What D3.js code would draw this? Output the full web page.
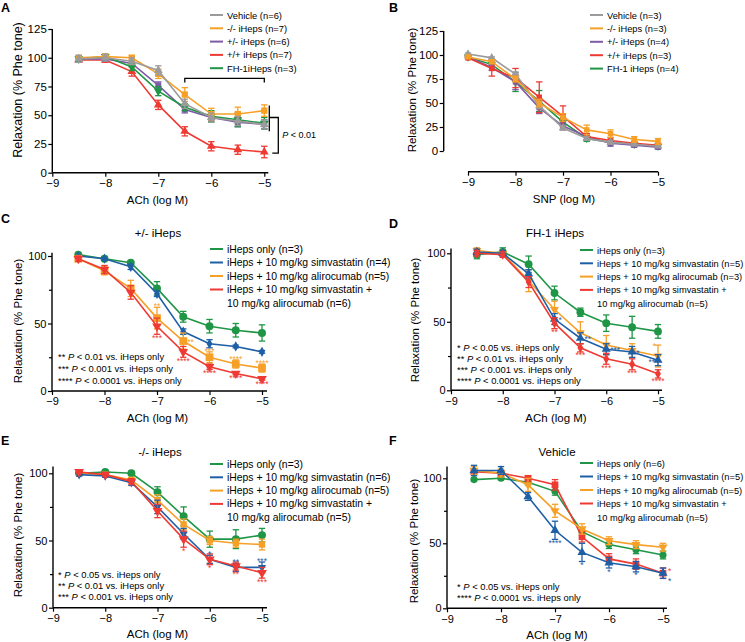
<!DOCTYPE html>
<html>
<head>
<meta charset="utf-8">
<script src="https://cdn.jsdelivr.net/npm/d3@7"></script>
<style>
  body { margin: 0; background: #fff; }
  text { font-family: "Liberation Sans", Arial, sans-serif; }
</style>
</head>
<body>
<script>
// doses (log M)
var doses8 = [-8.5, -8, -7.5, -7, -6.5, -6, -5.5, -5];
var doses9 = [-9, -8.5, -8, -7.5, -7, -6.5, -6, -5.5, -5];

// panel A - ACh, genotypes
var aNames = ["Vehicle (n=6)", "-/- iHeps (n=7)", "+/- iHeps (n=6)", "+/+ iHeps (n=7)", "FH-1iHeps (n=3)"];
var aVehicle = [99, 100, 97, 89, 60, 48, 45, 42], aVehicleErr = [3, 3, 3, 4, 4, 4, 4, 4];
var aKO = [100, 101, 100, 86, 68, 51, 51, 54], aKOErr = [2, 2, 2, 4, 6, 5, 6, 5];
var aHet = [99, 99, 95, 76, 55, 48, 44, 42], aHetErr = [2, 2, 2, 3, 3, 3, 4, 4];
var aHom = [98, 98, 88, 59, 36, 23, 20, 18], aHomErr = [2, 2, 4, 4, 4, 4, 4, 5];
var aFH = [99, 101, 92, 71, 57, 49, 46, 43], aFHErr = [2, 2, 3, 4, 3, 5, 6, 5];

// panel B - SNP, genotypes
var bNames = ["Vehicle (n=3)", "-/- iHeps (n=3)", "+/- iHeps (n=4)", "+/+ iHeps (n=3)", "FH-1 iHeps (n=4)"];
var bVehicle = [101, 97, 80, 47, 24, 13, 9, 7, 5], bVehicleErr = [1, 1, 2, 3, 2, 2, 2, 1, 1];
var bKO = [98, 93, 75, 50, 35, 22, 18, 12, 10], bKOErr = [1, 2, 3, 4, 4, 5, 4, 3, 3];
var bHet = [98, 87, 72, 45, 26, 15, 8, 6, 4], bHetErr = [1, 3, 8, 6, 4, 3, 3, 2, 2];
var bHom = [97, 86, 76, 56, 36, 15, 11, 8, 6], bHomErr = [1, 8, 10, 16, 11, 3, 3, 2, 2];
var bFH = [98, 90, 72, 52, 30, 13, 9, 7, 5], bFHErr = [1, 2, 10, 11, 4, 3, 2, 2, 2];

// panels C-F - treatments
var treatLabels = ["iHeps only", "iHeps + 10 mg/kg simvastatin", "iHeps + 10 mg/kg alirocumab", "iHeps + 10 mg/kg simvastatin +"];
var comboSecondLine = "10 mg/kg alirocumab";

var cN = [3, 4, 5, 6];
var cOnly = [101, 98, 95, 76, 55, 48, 45, 43], cOnlyErr = [1, 1, 1, 5, 4, 5, 5, 6];
var cSimva = [100, 98, 92, 72, 44, 35, 33, 29], cSimvaErr = [1, 1, 2, 2, 2, 3, 1, 1];
var cAliro = [98, 89, 76, 54, 37, 25, 20, 17], cAliroErr = [2, 3, 6, 8, 6, 4, 3, 3];
var cCombo = [98, 90, 73, 48, 29, 18, 13, 9], cComboErr = [2, 3, 5, 6, 4, 2, 1, 1];

var dN = [3, 5, 3, 5];
var dOnly = [99, 101, 92, 71, 57, 49, 46, 43], dOnlyErr = [3, 3, 6, 5, 3, 6, 8, 5];
var dSimva = [101, 100, 85, 52, 38, 30, 28, 22], dSimvaErr = [2, 2, 3, 4, 4, 4, 4, 4];
var dAliro = [102, 100, 80, 59, 42, 33, 29, 25], dAliroErr = [2, 2, 8, 6, 8, 7, 5, 8];
var dCombo = [100, 99, 79, 49, 31, 23, 19, 12], dComboErr = [2, 2, 4, 4, 3, 4, 4, 3];

var eN = [3, 6, 5, 5];
var eOnly = [100, 101, 100, 86, 68, 51, 51, 54], eOnlyErr = [1, 1, 1, 4, 7, 6, 7, 5];
var eSimva = [99, 98, 93, 75, 55, 36, 30, 30], eSimvaErr = [1, 1, 2, 5, 4, 3, 3, 4];
var eAliro = [100, 99, 95, 80, 62, 50, 48, 47], eAliroErr = [1, 1, 2, 4, 4, 3, 3, 4];
var eCombo = [101, 99, 94, 72, 51, 36, 31, 26], eComboErr = [1, 1, 2, 5, 6, 4, 3, 4];

var fN = [6, 5, 5, 5];
var fOnly = [99, 100, 97, 90, 59, 49, 45, 41], fOnlyErr = [1, 1, 2, 3, 3, 3, 3, 3];
var fSimva = [106, 106, 86, 60, 43, 35, 32, 27], fSimvaErr = [4, 3, 3, 7, 7, 4, 4, 4];
var fAliro = [106, 104, 95, 75, 61, 52, 49, 47], fAliroErr = [3, 3, 5, 5, 4, 3, 3, 3];
var fCombo = [105, 104, 100, 95, 55, 38, 34, 27], fComboErr = [2, 2, 2, 4, 4, 4, 4, 4];

// significance marks: series index, dose, stars, where (a above, b below, r right, l left)
var cStars = [[2, -7, "**", "a"], [3, -7, "***", "b"], [2, -6.5, "**", "r"], [3, -6.5, "****", "b"],
  [2, -6, "***", "a"], [3, -6, "****", "b"], [2, -5.5, "****", "a"], [3, -5.5, "****", "b"],
  [2, -5, "****", "a"], [3, -5, "****", "b"]];
var dStars = [[3, -7, "**", "b"], [1, -7, "*", "r"], [1, -6.5, "**", "r"], [3, -6.5, "***", "b"],
  [1, -6, "***", "r"], [3, -6, "***", "b"], [1, -5.5, "*", "r"], [3, -5.5, "***", "b"],
  [2, -5, "*", "la"], [1, -5, "**", "l"], [3, -5, "****", "b"]];
var eStars = [[3, -6.5, "*", "b"], [1, -6, "*", "a"], [3, -6, "*", "b"], [1, -5.5, "**", "a"],
  [3, -5.5, "**", "b"], [1, -5, "***", "a"], [3, -5, "***", "b"]];
var fStars = [[1, -7, "****", "b"], [1, -6.5, "*", "b"], [1, -6, "*", "b"], [1, -5.5, "*", "b"],
  [3, -5, "*", "ra"], [1, -5, "*", "rb"]];

var cNotes = [["**", "< 0.01 vs. iHeps only"], ["***", "< 0.001 vs. iHeps only"], ["****", "< 0.0001 vs. iHeps only"]];
var dNotes = [["*", "< 0.05 vs. iHeps only"], ["**", "< 0.01 vs. iHeps only"], ["***", "< 0.001 vs. iHeps only"], ["****", "< 0.0001 vs. iHeps only"]];
var eNotes = [["*", "< 0.05 vs. iHeps only"], ["**", "< 0.01 vs. iHeps only"], ["***", "< 0.001 vs. iHeps only"]];
var fNotes = [["*", "< 0.05 vs. iHeps only"], ["****", "< 0.0001 vs. iHeps only"]];

var xTicks = [-9, -8, -7, -6, -5];

var GREY = "#9b9b9b", ORANGE = "#f7a028", PURPLE = "#7d5ba6", RED = "#ee3a33", GREEN = "#1e9646", BLUE = "#1f5fa6";

var svg = d3.select("body").append("svg").attr("width", 745).attr("height", 642);

function sym(type, size) {
  return d3.symbol().type(type).size(size)();
}

function drawPanel(p) {
  var g = svg.append("g");
  var x = d3.scaleLinear().domain([-9, -5]).range(p.xr);
  var y = d3.scaleLinear().domain([0, p.yref]).range(p.yr);
  var yAxX = p.yAxX !== undefined ? p.yAxX : p.xr[0];
  var xAxY = p.xAxY !== undefined ? p.xAxY : y(0);

  // y axis
  var ya = g.append("g").attr("transform", "translate(" + yAxX + ",0)")
    .call(d3.axisLeft(y).tickValues(p.yTicks).tickSize(4).tickPadding(1.5));
  ya.select(".domain").remove();
  if (p.yMinor) {
    var ym = g.append("g").attr("transform", "translate(" + yAxX + ",0)")
      .call(d3.axisLeft(y).tickValues(p.yMinor).tickSize(3).tickFormat(""));
    ym.select(".domain").remove();
  }
  g.append("line").attr("x1", yAxX).attr("x2", yAxX).attr("y1", y(0)).attr("y2", y(p.yTop))
    .attr("stroke", "#000").attr("stroke-width", 1.4);

  // x axis
  var xa = g.append("g").attr("transform", "translate(0," + xAxY + ")")
    .call(d3.axisBottom(x).tickValues(xTicks).tickSize(4).tickPadding(2.5).tickFormat(d3.format("d")));
  xa.select(".domain").remove();
  g.append("line").attr("x1", p.yAxX !== undefined ? x(-9) : yAxX).attr("x2", x(-5) + (p.xExt || 0))
    .attr("y1", xAxY).attr("y2", xAxY).attr("stroke", "#000").attr("stroke-width", 1.4);

  g.selectAll(".tick line").attr("stroke", "#000").attr("stroke-width", 1.2);
  g.selectAll(".tick text").attr("fill", "#000").style("font-size", p.tickFont + "px")
    .style("font-family", "Liberation Sans, Arial, sans-serif");

  // axis titles
  g.append("text").attr("x", p.xLab[0]).attr("y", p.xLab[1]).attr("text-anchor", "middle")
    .style("font-size", p.labFont + "px").text(p.xTitle);
  g.append("text").attr("transform", "translate(" + p.yLab[0] + "," + p.yLab[1] + ") rotate(-90)")
    .attr("text-anchor", "middle").attr("dy", "0.35em").style("font-size", p.yLabFont + "px")
    .text("Relaxation (% Phe tone)");

  if (p.title) {
    g.append("text").attr("x", p.title[0]).attr("y", p.title[1]).attr("text-anchor", "middle")
      .style("font-size", "11.5px").text(p.title[2]);
  }
  g.append("text").attr("x", p.letter[0]).attr("y", p.letter[1]).style("font-size", "12.5px")
    .style("font-weight", "bold").text(p.letter[2]);

  // series
  var line = d3.line().x(function(d) { return x(d[0]); }).y(function(d) { return y(d[1]); });
  p.order.forEach(function(i) {
    var s = p.series[i];
    var pts = s.vals.map(function(v, k) { return [p.doses[k], v, s.err[k]]; });
    var sg = g.append("g");
    sg.append("path").attr("d", line(pts)).attr("fill", "none").attr("stroke", s.color).attr("stroke-width", 1.6);
    pts.forEach(function(d) {
      var cx = x(d[0]);
      sg.append("line").attr("x1", cx).attr("x2", cx).attr("y1", y(d[1] - d[2])).attr("y2", y(d[1] + d[2]))
        .attr("stroke", s.color).attr("stroke-width", 1.3);
      [d[1] - d[2], d[1] + d[2]].forEach(function(v) {
        sg.append("line").attr("x1", cx - 3.2).attr("x2", cx + 3.2).attr("y1", y(v)).attr("y2", y(v))
          .attr("stroke", s.color).attr("stroke-width", 1.3);
      });
      sg.append("path").attr("d", sym(s.shape, s.size || p.symSize))
        .attr("transform", "translate(" + cx + "," + y(d[1]) + ")" + (s.flip ? " rotate(180)" : ""))
        .attr("fill", s.color);
    });
  });

  // stars
  (p.stars || []).forEach(function(st) {
    var s = p.series[st[0]];
    var k = p.doses.indexOf(st[1]);
    var v = s.vals[k], e = s.err[k];
    var cx = x(st[1]), tx = cx, ty, anchor = "middle";
    if (st[3] === "a") ty = y(v + e) + 2;
    else if (st[3] === "b") ty = y(v - e) + 6.5;
    else if (st[3] === "r") { tx = cx + 4; ty = y(v) + 4; anchor = "start"; }
    else if (st[3] === "ra") { tx = cx + 5; ty = y(v) + 0.5; anchor = "start"; }
    else if (st[3] === "rb") { tx = cx + 5; ty = y(v - e) + 6; anchor = "start"; }
    else if (st[3] === "l") { tx = cx - 3; ty = y(v) + 5; anchor = "end"; }
    else if (st[3] === "la") { tx = cx - 2; ty = y(v + e) + 4; anchor = "end"; }
    g.append("text").attr("x", tx).attr("y", ty).attr("text-anchor", anchor)
      .style("font-size", "8.5px").attr("fill", s.color).text(st[2]);
  });

  // legend
  p.legend.forEach(function(lab, i) {
    var ly = p.legPos[1] + i * p.legStep;
    g.append("line").attr("x1", p.legPos[0]).attr("x2", p.legPos[0] + 13).attr("y1", ly).attr("y2", ly)
      .attr("stroke", p.series[i].color).attr("stroke-width", 2);
    var t = g.append("text").attr("x", p.legPos[0] + 17).attr("y", ly + 3.5).style("font-size", p.legFont + "px");
    if (Array.isArray(lab)) {
      t.append("tspan").text(lab[0]);
      t.append("tspan").attr("x", p.legPos[0] + 17).attr("dy", p.legStep).text(lab[1]);
    } else t.text(lab);
  });

  // notes
  (p.notes || []).forEach(function(n, i) {
    var t = g.append("text").attr("x", p.notePos[0]).attr("y", p.notePos[1] + i * p.noteStep).style("font-size", "9.4px");
    t.append("tspan").text(n[0] + " ");
    t.append("tspan").style("font-style", "italic").text("P");
    t.append("tspan").text(" " + n[1]);
  });

  return { g: g, x: x, y: y };
}

function treatSeries(vals, errs, shapes) {
  var colors = [GREEN, BLUE, ORANGE, RED];
  return vals.map(function(v, i) {
    return { vals: v, err: errs[i], color: colors[i], shape: shapes[i][0], flip: shapes[i][1], size: shapes[i][2] };
  });
}

function treatLegend(n) {
  return [treatLabels[0] + " (n=" + n[0] + ")", treatLabels[1] + " (n=" + n[1] + ")",
    treatLabels[2] + " (n=" + n[2] + ")", [treatLabels[3], comboSecondLine + " (n=" + n[3] + ")"]];
}

// ---- A ----
var pa = drawPanel({
  xr: [52.3, 264.3], yref: 125, yr: [172.7, 29], yTop: 125, yTicks: [0, 25, 50, 75, 100, 125],
  xExt: 4, doses: doses8, tickFont: 11.5, labFont: 11.5, yLabFont: 12.5,
  xTitle: "ACh (log M)", xLab: [157.5, 204], yLab: [18, 90], letter: [1, 12, "A"],
  symSize: 34,
  series: [
    { vals: aVehicle, err: aVehicleErr, color: GREY, shape: d3.symbolTriangle },
    { vals: aKO, err: aKOErr, color: ORANGE, shape: d3.symbolSquare, size: 40 },
    { vals: aHet, err: aHetErr, color: PURPLE, shape: d3.symbolSquare },
    { vals: aHom, err: aHomErr, color: RED, shape: d3.symbolTriangle },
    { vals: aFH, err: aFHErr, color: GREEN, shape: d3.symbolTriangle, flip: true }
  ],
  order: [3, 2, 4, 1, 0],
  legend: aNames, legPos: [210, 15], legStep: 13.3, legFont: 9.4
});
// significance bracket
var bx = pa.x, by = pa.y;
var bk = pa.g.append("g").attr("stroke", "#000").attr("stroke-width", 1.3).attr("fill", "none");
bk.append("path").attr("d", "M" + bx(-6.5) + "," + (by(82) + 4) + "V" + by(82) + "H" + bx(-5) + "V" + (by(82) + 4));
bk.append("path").attr("d", "M" + (bx(-5) + 5) + "," + by(58.5) + "V" + by(36));
bk.append("path").attr("d", "M" + (bx(-5) + 5) + "," + by(48) + "H" + (bx(-5) + 14) + "V" + by(17) + "H" + (bx(-5) + 8));
var pt = pa.g.append("text").attr("x", bx(-5) + 18).attr("y", by(32.5) + 3).style("font-size", "9px");
pt.append("tspan").style("font-style", "italic").text("P");
pt.append("tspan").text(" < 0.01");

// ---- B ----
drawPanel({
  xr: [468, 658], yref: 125, yr: [151, 31], yTop: 125, yTicks: [0, 25, 50, 75, 100, 125],
  yAxX: 443.7, xAxY: 171.7, xExt: 0, doses: doses9, tickFont: 11.5, labFont: 11.5, yLabFont: 11.5,
  xTitle: "SNP (log M)", xLab: [564, 203], yLab: [412, 90], letter: [389, 12, "B"],
  symSize: 30,
  series: [
    { vals: bVehicle, err: bVehicleErr, color: GREY, shape: d3.symbolTriangle },
    { vals: bKO, err: bKOErr, color: ORANGE, shape: d3.symbolSquare },
    { vals: bHet, err: bHetErr, color: PURPLE, shape: d3.symbolSquare },
    { vals: bHom, err: bHomErr, color: RED, shape: d3.symbolSquare },
    { vals: bFH, err: bFHErr, color: GREEN, shape: d3.symbolTriangle, flip: true }
  ],
  order: [4, 2, 3, 0, 1],
  legend: bNames, legPos: [590, 15], legStep: 13.4, legFont: 9.3
});

// ---- C ----
drawPanel({
  xr: [52, 262], yref: 100, yr: [391, 256], yTop: 102.5, yTicks: [0, 50, 100], yMinor: [25, 75],
  xExt: 5, doses: doses8, tickFont: 11, labFont: 11.5, yLabFont: 11.5,
  xTitle: "ACh (log M)", xLab: [157.5, 421.5], yLab: [18, 321], letter: [1, 223, "C"],
  title: [158, 237, "+/- iHeps"], symSize: 34,
  series: treatSeries([cOnly, cSimva, cAliro, cCombo], [cOnlyErr, cSimvaErr, cAliroErr, cComboErr],
    [[d3.symbolCircle, false, 50], [d3.symbolDiamond, false, 30], [d3.symbolSquare, false, 60], [d3.symbolTriangle, true, 40]]),
  order: [0, 1, 2, 3], stars: cStars,
  legend: treatLegend(cN), legPos: [210, 249], legStep: 13.5, legFont: 10.4,
  notes: cNotes, notePos: [58, 360], noteStep: 12
});

// ---- D ----
drawPanel({
  xr: [451, 658], yref: 100, yr: [390.3, 253.3], yTop: 103.5, yTicks: [0, 50, 100], yMinor: [25, 75],
  xExt: 4, doses: doses8, tickFont: 11, labFont: 11.5, yLabFont: 11.5,
  xTitle: "ACh (log M)", xLab: [556, 422], yLab: [415, 320], letter: [389, 228, "D"],
  title: [555, 237, "FH-1 iHeps"], symSize: 34,
  series: treatSeries([dOnly, dSimva, dAliro, dCombo], [dOnlyErr, dSimvaErr, dAliroErr, dComboErr],
    [[d3.symbolCircle, false, 48], [d3.symbolTriangle, false, 36], [d3.symbolTriangle, true, 34], [d3.symbolDiamond, false, 30]]),
  order: [0, 2, 1, 3], stars: dStars,
  legend: treatLegend(dN), legPos: [580, 250], legStep: 13.3, legFont: 9.3,
  notes: dNotes, notePos: [457, 351], noteStep: 11
});

// ---- E ----
drawPanel({
  xr: [53, 262], yref: 100, yr: [607.7, 473.3], yTop: 105, yTicks: [0, 50, 100], yMinor: [25, 75],
  xExt: 5, doses: doses8, tickFont: 11, labFont: 11.5, yLabFont: 11.5,
  xTitle: "ACh (log M)", xLab: [157.5, 638], yLab: [18, 535], letter: [1, 445, "E"],
  title: [160, 456, "-/- iHeps"], symSize: 36,
  series: treatSeries([eOnly, eSimva, eAliro, eCombo], [eOnlyErr, eSimvaErr, eAliroErr, eComboErr],
    [[d3.symbolCircle, false, 50], [d3.symbolTriangle, true, 30], [d3.symbolSquare, false, 40], [d3.symbolTriangle, true, 42]]),
  order: [0, 2, 1, 3], stars: eStars,
  legend: treatLegend(eN), legPos: [210, 464], legStep: 13.3, legFont: 10.4,
  notes: eNotes, notePos: [58, 578], noteStep: 11
});

// ---- F ----
drawPanel({
  xr: [447, 663], yref: 100, yr: [608.3, 478.3], yTop: 109, yTicks: [0, 50, 100], yMinor: [25, 75],
  xExt: 4, doses: doses8, tickFont: 11, labFont: 11.5, yLabFont: 11.5,
  xTitle: "ACh (log M)", xLab: [557, 639], yLab: [414, 541], letter: [389, 445, "F"],
  title: [557, 456, "Vehicle"], symSize: 36,
  series: treatSeries([fOnly, fSimva, fAliro, fCombo], [fOnlyErr, fSimvaErr, fAliroErr, fComboErr],
    [[d3.symbolCircle, false, 40], [d3.symbolTriangle, false, 36], [d3.symbolTriangle, true, 36], [d3.symbolSquare, false, 45]]),
  order: [0, 3, 2, 1], stars: fStars,
  legend: treatLegend(fN), legPos: [580, 463], legStep: 13.5, legFont: 9.3,
  notes: fNotes, notePos: [457, 590], noteStep: 11
});
</script>
</body>
</html>
